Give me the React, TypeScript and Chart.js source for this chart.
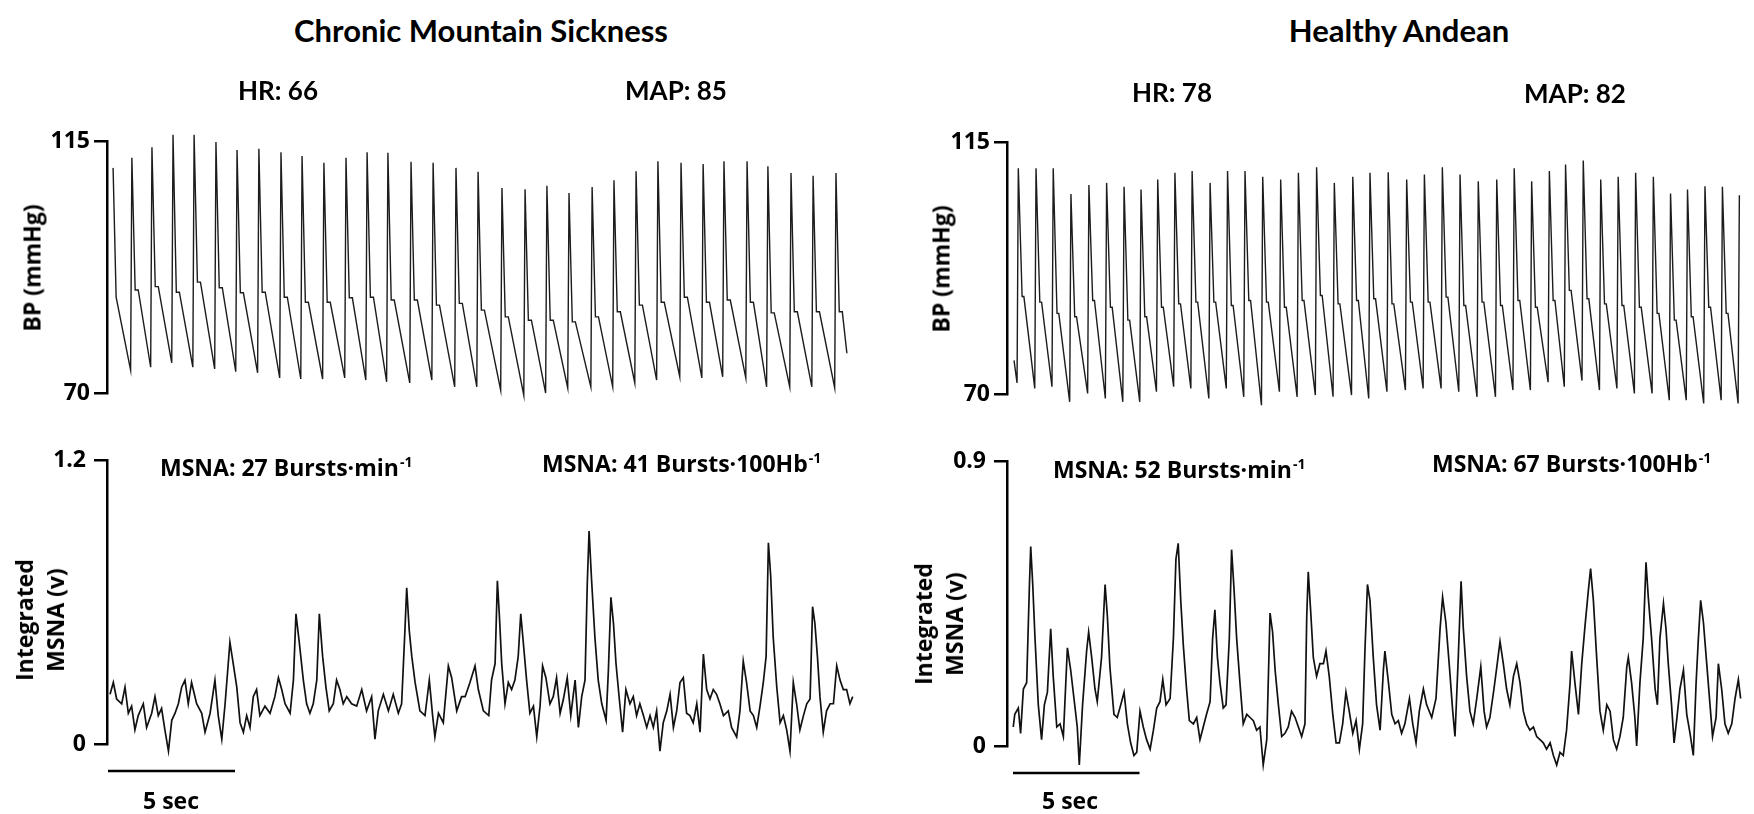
import React, { useEffect, useRef } from 'react';
import { Chart, registerables } from 'chart.js';

Chart.register(...registerables);

// ================= DATA =================
// Chronic Mountain Sickness — beat-by-beat blood pressure (time in s, pressure in mmHg)
const cmsBpPeakTimes = [0.94, 1.73, 2.56, 3.39, 4.25, 5.08, 5.94, 6.81, 7.64, 8.5, 9.37, 10.2, 11.02, 11.93, 12.8, 13.7, 14.57, 15.51, 16.42, 17.28, 18.15, 19.06, 19.92, 20.79, 21.65, 22.56, 23.43, 24.25, 25.16, 25.98, 26.89, 27.76, 28.66];
const cmsSystolic = [112, 113.9, 116.1, 116.1, 114.8, 113.4, 113.6, 113, 112.3, 111.1, 112, 113, 112.9, 111.3, 111.1, 110.2, 109.5, 106.6, 106.4, 107, 105.7, 106.8, 108, 109.6, 111.4, 111.1, 110.9, 111.4, 111.4, 110.5, 109.3, 108.8, 109.3];
const cmsDiastolic = [74.1, 74.6, 75.4, 74.6, 74.3, 73.8, 73.6, 72.7, 72.5, 72.5, 72.7, 72.3, 72.0, 71.8, 72.3, 71.1, 71.1, 70.5, 69.6, 70, 70.9, 71.1, 71.1, 71.8, 72.3, 72.9, 72.7, 72.9, 72.7, 71.1, 71.1, 71.1, 70.9];
const cmsDicrotic = [88.4, 89, 88, 89.8, 88.8, 87.9, 88, 87.1, 86.2, 86.2, 87, 87.1, 86.6, 86.6, 85.7, 86, 84.8, 83.6, 83, 83.0, 82.7, 83.6, 84.5, 85.7, 86.2, 87.1, 86.2, 86.6, 86.2, 84.3, 84.5, 84.5, 84.5];
const cmsBpLead = [[0.2, 110.2], [0.32, 87.1]];
const cmsBpTail = [[29.09, 77.1]];

// Healthy Andean — beat-by-beat blood pressure
const haBpPeakTimes = [0.21, 0.91, 1.59, 2.29, 3.0, 3.7, 4.39, 5.06, 5.72, 6.4, 7.08, 7.79, 8.48, 9.17, 9.87, 10.58, 11.28, 12.0, 12.7, 13.43, 14.11, 14.83, 15.56, 16.26, 16.97, 17.67, 18.39, 19.12, 19.81, 20.5, 21.2, 21.84, 22.54, 23.23, 23.92, 24.61, 25.31, 25.99, 26.66, 27.35, 28.04];
const haSystolic = [110.3, 110.3, 110.3, 105.7, 107.3, 107.7, 107.0, 106.5, 108.3, 109.5, 109.8, 107.7, 109.8, 109.8, 108.8, 108.3, 109.5, 110.5, 107.7, 108.8, 109.5, 109.6, 108.3, 109.2, 110.5, 109.2, 108.0, 108.3, 110.3, 108.0, 109.8, 111.0, 111.7, 108.3, 108.8, 109.5, 108.8, 105.8, 106.5, 107.1, 107.0];
const haDiastolic = [72, 71.0, 71.3, 68.6, 70.1, 69.2, 68.6, 68.6, 70.4, 71.3, 71.0, 69.2, 71.0, 69.5, 68.0, 70.4, 69.5, 69.8, 69.5, 69.8, 69.2, 70.4, 70.7, 71.0, 71.0, 70.4, 69.5, 69.5, 70.7, 70.7, 72.1, 71.3, 72.4, 70.7, 71.0, 70.1, 70.1, 68.9, 68.9, 68.3, 68.9];
const haDicrotic = [87.4, 86.4, 84.4, 83.8, 86.7, 85.5, 83.2, 83.8, 85.5, 86.1, 86.4, 86.4, 85.8, 86.7, 86.4, 85.5, 86.7, 87.6, 86.1, 86.7, 87.0, 86.1, 86.4, 86.4, 87.3, 85.8, 86.4, 85.8, 86.7, 85.5, 86.7, 88.5, 87.0, 86.1, 85.8, 85.5, 84.4, 83.2, 83.8, 85.5, 84.4];
const haBpLead = [[0.04, 76.0]];
const haBpTail = [[28.66, 68.3], [28.71, 105.5]];

// Integrated MSNA traces: [time (s), volts]
const cmsMsnaTrace = [
  [0.08,0.21],[0.21,0.26],[0.34,0.19],[0.54,0.17],[0.67,0.24],[0.8,0.13],[0.93,0.16],[1.06,0.06],[1.19,0.12],[1.39,0.17],[1.52,0.07],[1.72,0.13],[1.85,0.2],[1.98,0.12],[2.11,0.15],[2.24,0.06],[2.38,-0.03],[2.51,0.1],[2.64,0.13],[2.77,0.17],[2.9,0.24],[3.03,0.27],[3.16,0.17],[3.29,0.26],[3.49,0.17],[3.69,0.13],[3.82,0.05],[4.02,0.13],[4.21,0.27],[4.34,0.12],[4.48,0.02],[4.61,0.17],[4.8,0.43],[4.93,0.34],[5.07,0.24],[5.2,0.09],[5.33,0.05],[5.46,0.12],[5.59,0.07],[5.72,0.2],[5.85,0.23],[5.98,0.12],[6.18,0.16],[6.38,0.13],[6.57,0.2],[6.71,0.28],[6.84,0.23],[6.97,0.17],[7.17,0.13],[7.3,0.27],[7.4,0.55],[7.53,0.43],[7.69,0.27],[7.82,0.17],[7.95,0.13],[8.08,0.17],[8.22,0.27],[8.32,0.55],[8.45,0.37],[8.58,0.24],[8.71,0.14],[8.87,0.17],[9.0,0.27],[9.13,0.23],[9.26,0.17],[9.4,0.2],[9.59,0.17],[9.79,0.16],[9.99,0.23],[10.18,0.14],[10.38,0.2],[10.51,0.02],[10.64,0.14],[10.84,0.21],[11.04,0.14],[11.23,0.21],[11.43,0.13],[11.56,0.17],[11.69,0.48],[11.76,0.66],[11.86,0.48],[11.96,0.37],[12.09,0.26],[12.28,0.14],[12.48,0.12],[12.65,0.27],[12.78,0.12],[12.87,0.03],[13.01,0.13],[13.2,0.09],[13.4,0.33],[13.53,0.28],[13.73,0.14],[13.92,0.2],[14.06,0.2],[14.25,0.26],[14.45,0.33],[14.58,0.23],[14.78,0.14],[14.99,0.12],
  [15.1,0.27],[15.24,0.34],[15.33,0.69],[15.41,0.54],[15.5,0.34],[15.63,0.17],[15.76,0.26],[15.89,0.23],[16.02,0.27],[16.15,0.37],[16.25,0.55],[16.35,0.43],[16.48,0.27],[16.61,0.13],[16.75,0.16],[16.88,0.03],[17.01,0.16],[17.11,0.33],[17.24,0.28],[17.4,0.17],[17.53,0.2],[17.66,0.28],[17.8,0.13],[17.93,0.19],[18.08,0.28],[18.22,0.12],[18.39,0.27],[18.52,0.07],[18.65,0.2],[18.78,0.27],[18.87,0.68],[18.94,0.9],[19.04,0.69],[19.17,0.45],[19.3,0.27],[19.44,0.17],[19.61,0.1],[19.7,0.31],[19.8,0.62],[19.9,0.51],[20.0,0.34],[20.13,0.19],[20.26,0.05],[20.39,0.23],[20.55,0.17],[20.68,0.2],[20.81,0.12],[20.94,0.17],[21.08,0.12],[21.21,0.07],[21.34,0.12],[21.47,0.07],[21.6,0.14],[21.73,-0.03],[21.86,0.09],[22.0,0.14],[22.13,0.21],[22.26,0.07],[22.39,0.14],[22.52,0.26],[22.65,0.28],[22.78,0.13],[22.91,0.12],[23.04,0.09],[23.18,0.17],[23.31,0.05],[23.44,0.38],[23.57,0.23],[23.7,0.19],[23.83,0.23],[23.96,0.21],[24.09,0.17],[24.23,0.12],[24.42,0.14],[24.55,0.07],[24.75,0.03],[24.88,0.14],[25.01,0.35],[25.14,0.26],[25.28,0.14],[25.41,0.12],[25.54,0.07],[25.67,0.16],[25.8,0.26],[25.91,0.37],[26.0,0.85],[26.09,0.71],[26.19,0.45],[26.33,0.24],[26.46,0.09],[26.59,0.12],[26.72,0.06],[26.85,-0.03],[26.98,0.26],[27.11,0.17],[27.24,0.06],[27.38,0.12],[27.51,0.17],[27.64,0.19],[27.74,0.58],[27.83,0.51],[27.93,0.37],[28.03,0.2],[28.16,0.05],[28.29,0.14],[28.43,0.17],[28.56,0.17],[28.69,0.33],[28.82,0.27],[28.95,0.23],[29.08,0.23],[29.21,0.17],[29.32,0.2],
];
const haMsnaTrace = [
  [0.01,0.06],[0.07,0.1],[0.21,0.12],[0.3,0.04],[0.41,0.18],[0.54,0.2],[0.65,0.51],[0.7,0.63],[0.78,0.51],[0.87,0.34],[1.0,0.13],[1.13,0.02],[1.24,0.13],[1.36,0.17],[1.49,0.37],[1.59,0.22],[1.73,0.06],[1.86,0.07],[1.99,0.03],[2.15,0.31],[2.28,0.24],[2.41,0.15],[2.54,0.06],[2.62,-0.06],[2.75,0.13],[2.91,0.3],[2.99,0.36],[3.11,0.28],[3.24,0.18],[3.33,0.14],[3.5,0.28],[3.64,0.51],[3.73,0.41],[3.83,0.25],[3.99,0.1],[4.12,0.09],[4.26,0.13],[4.39,0.17],[4.52,0.07],[4.65,0.01],[4.78,-0.03],[4.89,-0.02],[5.02,0.11],[5.15,0.06],[5.28,0.02],[5.42,-0.01],[5.55,0.05],[5.68,0.12],[5.81,0.14],[5.92,0.21],[6.05,0.13],[6.21,0.15],[6.34,0.34],[6.44,0.59],[6.53,0.64],[6.63,0.46],[6.73,0.32],[6.86,0.18],[6.97,0.08],[7.13,0.07],[7.26,0.09],[7.39,0.02],[7.52,0.06],[7.65,0.1],[7.79,0.14],[7.89,0.34],[7.98,0.43],[8.08,0.28],[8.18,0.2],[8.31,0.12],[8.42,0.13],[8.55,0.34],[8.64,0.62],[8.74,0.49],[8.84,0.34],[8.97,0.2],[9.1,0.07],[9.24,0.1],[9.37,0.09],[9.5,0.08],[9.63,0.05],[9.76,0.06],[9.89,-0.06],[10.03,0.02],[10.16,0.42],[10.26,0.36],[10.36,0.24],[10.49,0.13],[10.62,0.03],[10.75,0.04],[10.88,0.06],[11.01,0.11],[11.15,0.09],[11.28,0.06],[11.41,0.03],[11.54,0.07],[11.61,0.41],[11.67,0.55],[11.77,0.42],[11.87,0.28],[12.0,0.22],[12.13,0.26],[12.27,0.26],[12.37,0.3],[12.5,0.22],[12.64,0.1],[12.77,0.01],[12.9,0.01],[13.03,0.07],[13.16,0.17],[13.29,0.11],[13.43,0.04],[13.56,0.08],[13.69,-0.01],[13.82,0.07],[13.91,0.3],[14.01,0.51],[14.11,0.46],[14.24,0.28],[14.37,0.13],[14.51,0.05],
  [14.64,0.24],[14.7,0.3],[14.84,0.2],[14.97,0.1],[15.1,0.07],[15.23,0.08],[15.36,0.04],[15.49,0.07],[15.67,0.15],[15.8,0.07],[15.93,0.01],[16.06,0.11],[16.22,0.18],[16.35,0.13],[16.55,0.09],[16.72,0.15],[16.88,0.37],[16.98,0.47],[17.11,0.39],[17.25,0.25],[17.38,0.11],[17.47,0.03],[17.6,0.28],[17.71,0.52],[17.8,0.37],[17.93,0.22],[18.06,0.11],[18.19,0.07],[18.33,0.15],[18.49,0.25],[18.62,0.11],[18.72,0.06],[18.85,0.09],[19.01,0.18],[19.14,0.26],[19.25,0.33],[19.38,0.26],[19.51,0.18],[19.64,0.13],[19.78,0.22],[19.91,0.26],[20.04,0.2],[20.17,0.11],[20.3,0.07],[20.43,0.05],[20.57,0.06],[20.7,0.03],[20.83,0.02],[20.96,0.01],[21.09,-0.01],[21.23,0.01],[21.36,-0.03],[21.49,-0.06],[21.62,-0.02],[21.75,-0.03],[21.88,0.05],[22.02,0.2],[22.08,0.3],[22.21,0.2],[22.35,0.1],[22.48,0.26],[22.61,0.38],[22.74,0.49],[22.83,0.56],[22.94,0.46],[23.07,0.28],[23.2,0.11],[23.33,0.05],[23.47,0.13],[23.6,0.11],[23.73,0.02],[23.86,-0.01],[23.99,0.03],[24.12,0.09],[24.26,0.25],[24.32,0.28],[24.45,0.2],[24.58,0.09],[24.65,0.0],[24.78,0.2],[24.91,0.34],[25.02,0.58],[25.11,0.47],[25.24,0.34],[25.38,0.18],[25.47,0.13],[25.57,0.34],[25.71,0.45],[25.81,0.37],[25.9,0.26],[26.03,0.13],[26.13,0.01],[26.23,0.08],[26.36,0.18],[26.5,0.24],[26.63,0.1],[26.76,0.04],[26.89,-0.03],[27.0,0.2],[27.09,0.34],[27.18,0.46],[27.29,0.39],[27.42,0.26],[27.55,0.13],[27.65,0.03],[27.79,0.09],[27.88,0.26],[28.01,0.18],[28.14,0.07],[28.27,0.04],[28.41,0.07],[28.54,0.15],[28.67,0.21],[28.76,0.15],
];

// Axis ticks and scale bar
const bpTicks = [70, 115];
const cmsMsnaTicks = [0, 1.2];
const haMsnaTicks = [0, 0.9];
const scaleBarSeconds = [0, 5];

// Text
const groupTitles = ['Chronic Mountain Sickness', 'Healthy Andean'];
const hrLabels = ['HR: 66', 'HR: 78'];
const mapLabels = ['MAP: 85', 'MAP: 82'];
const msnaRateLabels = ['MSNA: 27 Bursts·min', 'MSNA: 52 Bursts·min'];
const msnaIncidenceLabels = ['MSNA: 41 Bursts·100Hb', 'MSNA: 67 Bursts·100Hb'];

// ================= HELPERS =================
type Pt = { x: number; y: number };

// Each beat: trough (diastolic) -> systolic peak -> dicrotic shoulder (held briefly) -> decay to next trough
function buildBp(lead: number[][], peaks: number[], sys: number[], dia: number[], notch: number[], tail: number[][], up: number, dn: number, hold: number): Pt[] {
  const pts: Pt[] = lead.map(([x, y]) => ({ x, y }));
  for (let i = 0; i < peaks.length; i++) {
    pts.push({ x: peaks[i] - up, y: dia[i] });
    pts.push({ x: peaks[i], y: sys[i] });
    pts.push({ x: peaks[i] + dn, y: notch[i] });
    pts.push({ x: peaks[i] + dn + hold, y: notch[i] });
  }
  tail.forEach(([x, y]) => pts.push({ x, y }));
  return pts;
}

const pairs = (a: number[][]): Pt[] => a.map(([x, y]) => ({ x, y }));

const TICK_FONT = { family: "'Open Sans', sans-serif", size: 23, weight: 'bold' as const };

const scaleBarPlugin = {
  id: 'scaleBar',
  afterDraw(chart: any, _args: any, opts: any) {
    if (!opts || !opts.show) return;
    const xs = chart.scales.x;
    const ys = chart.scales.y;
    const x0 = xs.getPixelForValue(opts.from);
    const x1 = xs.getPixelForValue(opts.to);
    const y = ys.getPixelForValue(ys.min) + opts.offset;
    const ctx = chart.ctx;
    ctx.save();
    ctx.strokeStyle = '#000';
    ctx.lineWidth = 2.5;
    ctx.beginPath();
    ctx.moveTo(x0, y);
    ctx.lineTo(x1, y);
    ctx.stroke();
    ctx.restore();
  },
};

type PanelProps = {
  left: number; top: number; width: number; height: number;
  points: Pt[]; yMin: number; yMax: number; ticks: number[];
  xMin: number; xMax: number; padTop: number; padBottom: number; axisWidth: number;
  lineWidth: number; lineColor: string; tickPad: number; scaleBar?: boolean;
};

function Panel(p: PanelProps) {
  const ref = useRef<HTMLCanvasElement>(null);
  useEffect(() => {
    if (!ref.current) return;
    const chart = new Chart(ref.current, {
      type: 'line',
      data: {
        datasets: [{
          data: p.points,
          borderColor: p.lineColor,
          borderWidth: p.lineWidth,
          borderJoinStyle: 'miter',
          pointRadius: 0,
          tension: 0,
          clip: false as any,
          fill: false,
        }],
      },
      options: {
        responsive: false,
        animation: false,
        devicePixelRatio: 1,
        events: [],
        layout: { padding: { top: p.padTop, bottom: p.padBottom, left: 0, right: 0 } },
        plugins: {
          legend: { display: false },
          tooltip: { enabled: false },
          scaleBar: { show: !!p.scaleBar, from: scaleBarSeconds[0], to: scaleBarSeconds[1], offset: 27 },
        } as any,
        scales: {
          x: { type: 'linear', min: p.xMin, max: p.xMax, display: false },
          y: {
            type: 'linear', min: p.yMin, max: p.yMax,
            afterBuildTicks: (s: any) => { s.ticks = p.ticks.map((v) => ({ value: v })); },
            afterFit: (s: any) => { s.width = p.axisWidth; },
            grid: { drawOnChartArea: false, drawTicks: true, tickLength: 13, color: '#000', lineWidth: 2.5 },
            border: { display: true, color: '#000', width: 2.5 },
            ticks: { color: '#000', font: TICK_FONT, padding: p.tickPad, callback: (v: any) => String(v) },
          },
        },
      },
      plugins: [scaleBarPlugin],
    });
    return () => chart.destroy();
  }, []);
  return (
    <canvas ref={ref} width={p.width} height={p.height}
      style={{ position: 'absolute', left: p.left, top: p.top, width: p.width, height: p.height }} />
  );
}

const txt = (extra: React.CSSProperties): React.CSSProperties => ({
  position: 'absolute', whiteSpace: 'nowrap', color: '#000', fontWeight: 700, ...extra,
});

const Sup = () => <span style={{ fontSize: 14, position: 'relative', top: -9, marginLeft: 1 }}>-1</span>;

export default function App() {
  const cmsBp = buildBp(cmsBpLead, cmsBpPeakTimes, cmsSystolic, cmsDiastolic, cmsDicrotic, cmsBpTail, 0.05, 0.13, 0.12);
  const haBp = buildBp(haBpLead, haBpPeakTimes, haSystolic, haDiastolic, haDicrotic, haBpTail, 0.05, 0.15, 0.07);

  const lx0 = -1 / 25.4, lx1 = lx0 + 773 / 25.4;
  const rx0 = -6 / 25.3, rx1 = rx0 + 747 / 25.3;

  const title: React.CSSProperties = { fontFamily: 'Lato, sans-serif', fontSize: 31, transform: 'translate(-50%, -50%)' };
  const sub: React.CSSProperties = { fontFamily: 'Lato, sans-serif', fontSize: 26, transform: 'translate(-50%, -50%)' };
  const ann: React.CSSProperties = { fontFamily: "'Open Sans', sans-serif", fontSize: 23, transform: 'translate(0, -50%)' };
  const rot: React.CSSProperties = { fontFamily: "'Open Sans', sans-serif", fontSize: 23, transform: 'translate(-50%, -50%) rotate(-90deg)', textAlign: 'center', lineHeight: '31px' };
  const sec: React.CSSProperties = { fontFamily: "'Open Sans', sans-serif", fontSize: 23, transform: 'translate(-50%, -50%)' };

  return (
    <div style={{ position: 'fixed', left: 0, top: 0, width: 1754, height: 814, background: '#fff', overflow: 'hidden' }}>
      <Panel left={0} top={100} width={880} height={320} points={cmsBp} yMin={70} yMax={115} ticks={bpTicks}
        xMin={lx0} xMax={lx1} padTop={41} padBottom={27} axisWidth={107} lineWidth={1.4} lineColor="#1c1c1c" tickPad={4} />
      <Panel left={0} top={420} width={880} height={394} points={pairs(cmsMsnaTrace)} yMin={0} yMax={1.2} ticks={cmsMsnaTicks}
        xMin={lx0} xMax={lx1} padTop={40} padBottom={70} axisWidth={107} lineWidth={1.7} lineColor="#111" tickPad={8} scaleBar />
      <Panel left={900} top={100} width={854} height={320} points={haBp} yMin={70} yMax={115} ticks={bpTicks}
        xMin={rx0} xMax={rx1} padTop={42} padBottom={26} axisWidth={107} lineWidth={1.4} lineColor="#1c1c1c" tickPad={4} />
      <Panel left={900} top={420} width={854} height={394} points={pairs(haMsnaTrace)} yMin={0} yMax={0.9} ticks={haMsnaTicks}
        xMin={rx0} xMax={rx1} padTop={41} padBottom={68} axisWidth={107} lineWidth={1.7} lineColor="#111" tickPad={8} scaleBar />

      <div style={txt({ ...title, left: 481, top: 30 })}>{groupTitles[0]}</div>
      <div style={txt({ ...title, left: 1399, top: 30 })}>{groupTitles[1]}</div>
      <div style={txt({ ...sub, left: 278, top: 90 })}>{hrLabels[0]}</div>
      <div style={txt({ ...sub, left: 676, top: 90 })}>{mapLabels[0]}</div>
      <div style={txt({ ...sub, left: 1172, top: 92 })}>{hrLabels[1]}</div>
      <div style={txt({ ...sub, left: 1575, top: 93 })}>{mapLabels[1]}</div>

      <div style={txt({ ...ann, left: 160, top: 467 })}>{msnaRateLabels[0]}<Sup /></div>
      <div style={txt({ ...ann, left: 542, top: 463 })}>{msnaIncidenceLabels[0]}<Sup /></div>
      <div style={txt({ ...ann, left: 1053, top: 469 })}>{msnaRateLabels[1]}<Sup /></div>
      <div style={txt({ ...ann, left: 1432, top: 463 })}>{msnaIncidenceLabels[1]}<Sup /></div>

      <div style={txt({ ...rot, left: 32, top: 268 })}>BP (mmHg)</div>
      <div style={txt({ ...rot, left: 941, top: 269 })}>BP (mmHg)</div>
      <div style={txt({ ...rot, left: 40, top: 620 })}>Integrated<br />MSNA (v)</div>
      <div style={txt({ ...rot, left: 939, top: 624 })}>Integrated<br />MSNA (v)</div>

      <div style={txt({ ...sec, left: 171, top: 800 })}>5 sec</div>
      <div style={txt({ ...sec, left: 1070, top: 800 })}>5 sec</div>
    </div>
  );
}
